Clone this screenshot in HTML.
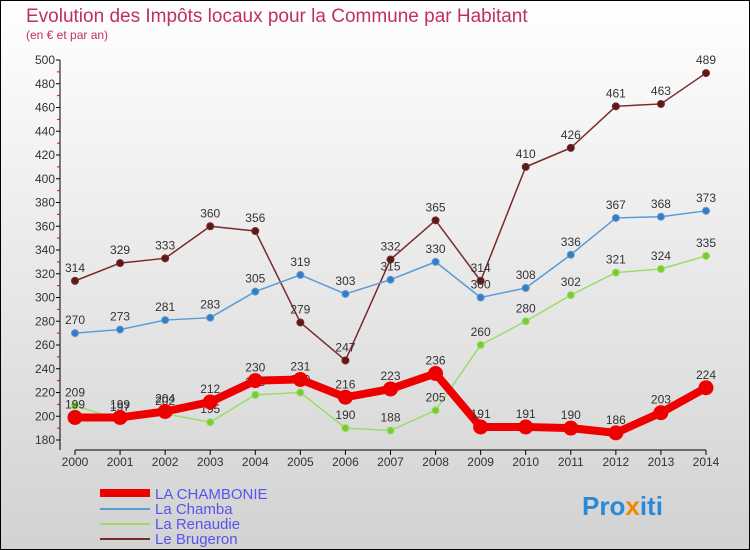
<!DOCTYPE html>
<html><head><meta charset="utf-8"><style>
body{margin:0}
svg{display:block;font-family:"Liberation Sans",sans-serif}
</style></head><body>
<svg id="c" width="750" height="550" viewBox="0 0 750 550">
<defs><linearGradient id="bg" x1="0" y1="0" x2="0" y2="1"><stop offset="0" stop-color="#ffffff"/><stop offset="1" stop-color="#d2d2d2"/></linearGradient></defs>
<rect x="0.5" y="0.5" width="749" height="549" fill="url(#bg)" stroke="#000"/>
<text x="26" y="22" font-size="19" fill="#c0305a">Evolution des Impôts locaux pour la Commune par Habitant</text>
<text x="26" y="39" font-size="12" fill="#c0305a">(en € et par an)</text>
<g id="axes"></g><g id="series"></g>
<g>
<line x1="100" y1="493" x2="150" y2="493" stroke="#ee0000" stroke-width="8"/>
<text x="155" y="499" font-size="15" fill="#5555ee">LA CHAMBONIE</text>
<line x1="100" y1="509" x2="150" y2="509" stroke="#5b9bd5" stroke-width="2"/>
<text x="155" y="514" font-size="15" fill="#5555ee">La Chamba</text>
<line x1="100" y1="524" x2="150" y2="524" stroke="#99dd66" stroke-width="2"/>
<text x="155" y="529" font-size="15" fill="#5555ee">La Renaudie</text>
<line x1="100" y1="539" x2="150" y2="539" stroke="#7a2a2a" stroke-width="2"/>
<text x="155" y="544" font-size="15" fill="#5555ee">Le Brugeron</text>
</g>
<text x="582" y="515" font-size="26" font-weight="bold" fill="#2a8ad8">Pro<tspan fill="#ee8800">x</tspan>iti</text>
</svg>
<script>
const years=[2000,2001,2002,2003,2004,2005,2006,2007,2008,2009,2010,2011,2012,2013,2014];
const yTicks=[180,200,220,240,260,280,300,320,340,360,380,400,420,440,460,480,500];
const chambonie=[199,199,204,212,230,231,216,223,236,191,191,190,186,203,224];
const chamba=[270,273,281,283,305,319,303,315,330,300,308,336,367,368,373];
const renaudie=[209,197,202,195,218,220,190,188,205,260,280,302,321,324,335];
const brugeron=[314,329,333,360,356,279,247,332,365,314,410,426,461,463,489];
const NS="http://www.w3.org/2000/svg";
const X=i=>75+i*(706-75)/(years.length-1);
const Y=v=>440-(v-180)*380/320;
function mk(t,a,p){const e=document.createElementNS(NS,t);for(const k in a)e.setAttribute(k,a[k]);p.appendChild(e);return e;}
const ax=document.getElementById('axes');
const yl=mk('line',{x1:60,y1:60,x2:60,y2:450,stroke:'#000'},ax);


const xl=mk('line',{x1:75,y1:450,x2:706,y2:450,stroke:'#000'},ax);


yTicks.forEach(v=>{
 mk('line',{x1:56,y1:Y(v),x2:60,y2:Y(v),stroke:'#000'},ax);
 if(v<500) mk('line',{x1:57,y1:Y(v+10),x2:60,y2:Y(v+10),stroke:'#e00'},ax);
 const t=mk('text',{x:55,y:Y(v)+4,'text-anchor':'end','font-size':12,fill:'#333'},ax);t.textContent=v;
 
 
});
years.forEach((y,i)=>{
 mk('line',{x1:X(i),y1:450,x2:X(i),y2:455,stroke:'#000'},ax);
 const t=mk('text',{x:X(i),y:466,'text-anchor':'middle','font-size':12,fill:'#333'},ax);t.textContent=y;
 
 
});
const sg=document.getElementById('series');
function series(vals,color,w,r,name,dot){
 const g=mk('g',{},sg);
 
 
 const pl=mk('polyline',{points:vals.map((v,i)=>X(i)+','+Y(v)).join(' '),fill:'none',stroke:color,'stroke-width':w,'stroke-linejoin':'round'},g);
 
 
 vals.forEach((v,i)=>{
  const c=mk('circle',{cx:X(i),cy:Y(v),r:r,fill:dot,stroke:color,'stroke-width':1},g);
  
  
  const t=mk('text',{x:X(i),y:Y(v)-9,'text-anchor':'middle','font-size':12,fill:'#333'},g);t.textContent=v;
  
  
 });
}
series(brugeron,'#7a2a2a',1.5,3.5,'brugeron','#5a1a1a');
series(chamba,'#5b9bd5',1.5,3.5,'chamba','#3a7ac0');
series(renaudie,'#99dd66',1.5,3.5,'renaudie','#77cc33');
series(chambonie,'#ee0000',8,7,'chambonie','#ee0000');
</script>
</body></html>
